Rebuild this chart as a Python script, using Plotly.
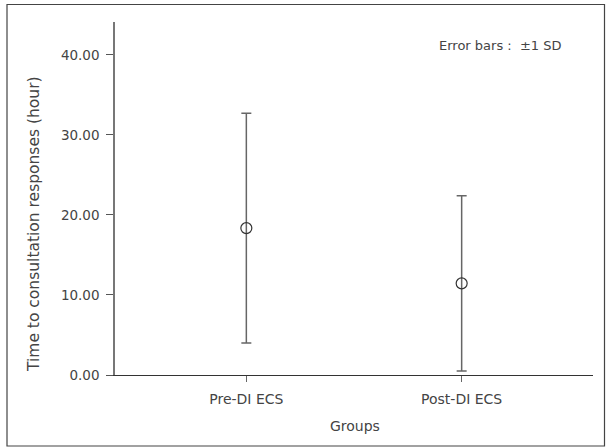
import plotly.graph_objects as go

groups = ["Pre-DI ECS", "Post-DI ECS"]
means = [18.35, 11.45]
sds = [14.35, 10.95]
y_ticks = [0, 10, 20, 30, 40]
y_tick_labels = ["0.00", "10.00", "20.00", "30.00", "40.00"]

FONT = "'DejaVu Sans', sans-serif"
TXT = "#444444"

L, T, R, B = 115, 22, 593, 375
W, H = 606, 447
pw, ph = R - L, B - T

def px(x):
    return (x - L) / pw

def py(y):
    return (B - y) / ph

fig = go.Figure()
fig.add_trace(go.Scatter(
    x=groups, y=means, mode="markers",
    marker=dict(symbol="circle-open", size=11, color="#333333", line=dict(width=1.2)),
    error_y=dict(type="data", array=sds, visible=True, color="#666666",
                 thickness=1.5, width=5),
    showlegend=False,
))

fig.update_layout(
    width=W, height=H,
    margin=dict(l=L, r=W - R, t=T, b=H - B),
    paper_bgcolor="white", plot_bgcolor="white",
    font=dict(family=FONT, size=13, color=TXT),
    xaxis=dict(
        type="category", range=[-0.61, 1.61],
        showline=True, linecolor="#333333", linewidth=1.2,
        ticks="outside", ticklen=6, tickcolor="#666666",
        showgrid=False, zeroline=False, ticklabelstandoff=5,
        tickfont=dict(size=14, color=TXT),
    ),
    yaxis=dict(
        range=[0, 44.1], tickvals=y_ticks, ticktext=y_tick_labels,
        showline=True, linecolor="#777777", linewidth=1.5,
        ticks="outside", ticklen=7, tickcolor="#555555",
        showgrid=False, zeroline=False, ticklabelstandoff=4,
        tickfont=dict(size=13.5, color=TXT),
    ),
    annotations=[
        dict(text="Error bars :  \u00b11 SD", xref="paper", yref="paper",
             x=px(500), y=py(45), showarrow=False,
             xanchor="center", yanchor="middle",
             font=dict(size=13, color=TXT, family=FONT)),
        dict(text="Groups", xref="paper", yref="paper",
             x=px(355), y=py(426), showarrow=False,
             xanchor="center", yanchor="middle",
             font=dict(size=14, color=TXT, family=FONT)),
        dict(text="Time to consultation responses (hour)", xref="paper", yref="paper",
             x=px(34), y=py(224), showarrow=False, textangle=-90,
             xanchor="center", yanchor="middle",
             font=dict(size=15.5, color=TXT, family=FONT)),
    ],
    shapes=[dict(
        type="rect", xref="paper", yref="paper",
        x0=px(7), x1=px(604.5),
        y0=py(446), y1=py(4.5),
        line=dict(color="#444444", width=1.2), fillcolor="rgba(0,0,0,0)",
        layer="below",
    )],
)

fig.write_html("out.html", config={"displayModeBar": False},
               post_script="document.body.style.margin='0';")
